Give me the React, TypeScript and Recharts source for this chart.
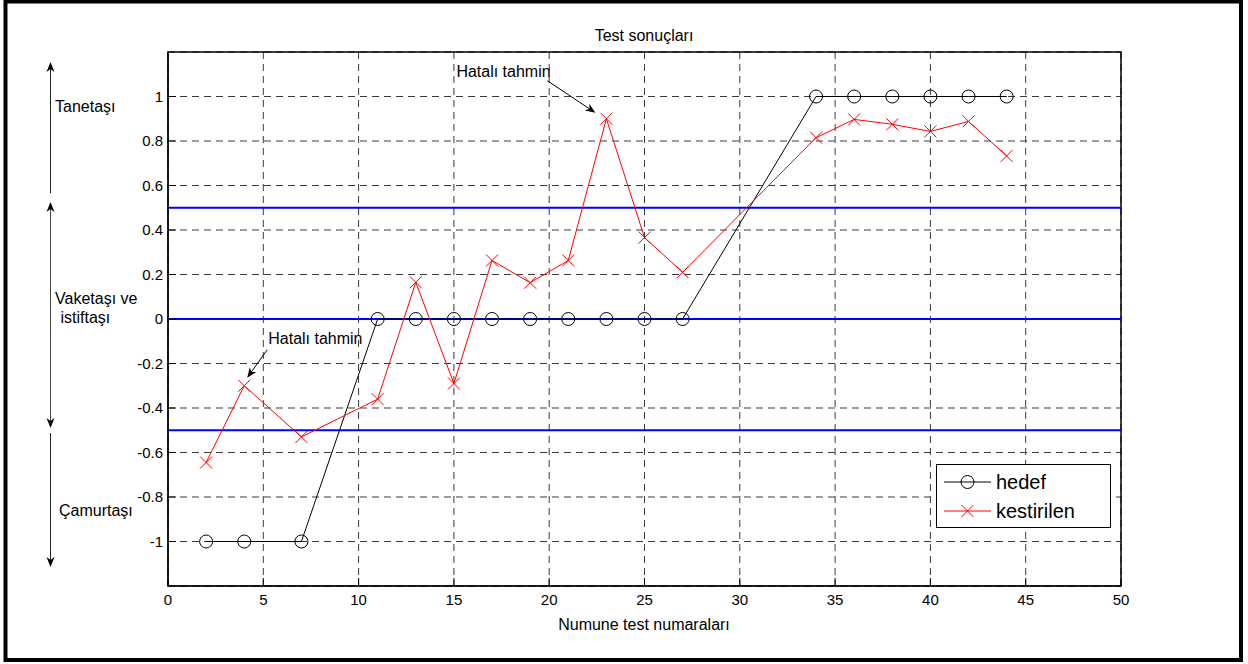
import React from 'react';
import {
  ComposedChart,
  Line,
  XAxis,
  YAxis,
  CartesianGrid,
  ReferenceLine,
  ReferenceDot,
  ReferenceArea,
} from 'recharts';

// ---- data ----
const sampleNumbers = [2, 4, 7, 11, 13, 15, 17, 19, 21, 23, 25, 27, 34, 36, 38, 40, 42, 44];
const hedefValues = [-1, -1, -1, 0, 0, 0, 0, 0, 0, 0, 0, 0, 1, 1, 1, 1, 1, 1];
const kestirilenValues = [
  -0.645, -0.3, -0.53, -0.36, 0.165, -0.29, 0.263, 0.163, 0.263, 0.9, 0.366, 0.21,
  0.815, 0.897, 0.875, 0.843, 0.888, 0.733,
];
const xTicks = [0, 5, 10, 15, 20, 25, 30, 35, 40, 45, 50];
const yTicks = [-1, -0.8, -0.6, -0.4, -0.2, 0, 0.2, 0.4, 0.6, 0.8, 1];
const classBoundaries = [0.5, 0, -0.5];
const errorNotes = [
  { x: 4, y: -0.3, label: 'Hatalı tahmin', side: 'right' },
  { x: 23, y: 0.9, label: 'Hatalı tahmin', side: 'left' },
];
const classLabels = ['Tanetaşı', 'Vaketaşı ve', ' istiftaşı', 'Çamurtaşı'];
const legendNames = ['hedef', 'kestirilen'];
const titleText = 'Test sonuçları';
const xLabelText = 'Numune test numaraları';

const rows = sampleNumbers.map((x, i) => ({
  x,
  hedef: hedefValues[i],
  kestirilen: kestirilenValues[i],
}));

const FONT = '"Liberation Sans", Arial, Helvetica, sans-serif';

function arrowHead(x1: number, y1: number, x2: number, y2: number, len = 10, half = 4, notch = 7) {
  const a = Math.atan2(y2 - y1, x2 - x1);
  const ux = Math.cos(a);
  const uy = Math.sin(a);
  const px = -uy;
  const py = ux;
  const bx = x2 - ux * len;
  const by = y2 - uy * len;
  const nx = x2 - ux * notch;
  const ny = y2 - uy * notch;
  return {
    d: `M${x2},${y2} L${bx + px * half},${by + py * half} L${nx},${ny} L${bx - px * half},${by - py * half} Z`,
    nx,
    ny,
  };
}

function Arrow({ x1, y1, x2, y2, color = '#000' }: any) {
  const h = arrowHead(x1, y1, x2, y2);
  return (
    <g>
      <line x1={x1} y1={y1} x2={h.nx} y2={h.ny} stroke={color} strokeWidth={1} />
      <path d={h.d} fill="#000" stroke="none" />
    </g>
  );
}

const CircleDot = (props: any) => {
  const { cx, cy, index } = props;
  if (cx == null || cy == null) return <g key={`c${index}`} />;
  return <circle key={`c${index}`} cx={cx} cy={cy} r={6.5} fill="none" stroke="#000" strokeWidth={1} />;
};

const CrossDot = (props: any) => {
  const { cx, cy, index } = props;
  if (cx == null || cy == null) return <g key={`x${index}`} />;
  const s = 6;
  return (
    <g key={`x${index}`}>
      <line x1={cx - s} y1={cy - s} x2={cx + s} y2={cy + s} stroke="#ff0000" strokeWidth={1} />
      <line x1={cx - s} y1={cy + s} x2={cx + s} y2={cy - s} stroke="#ff0000" strokeWidth={1} />
    </g>
  );
};

const makeNoteShape = (side: string, label: string) => (props: any) => {
  const { cx, cy } = props;
  if (cx == null || cy == null) return <g />;
  if (side === 'right') {
    return (
      <g>
        <text x={cx + 24} y={cy - 42} fontSize={16} fontFamily={FONT} fill="#000">
          {label}
        </text>
        <Arrow x1={cx + 23} y1={cy - 36} x2={cx + 3} y2={cy - 8} />
      </g>
    );
  }
  return (
    <g>
      <text x={cx - 150} y={cy - 42} fontSize={16} fontFamily={FONT} fill="#000">
        {label}
      </text>
      <Arrow x1={cx - 59} y1={cy - 38} x2={cx - 11} y2={cy - 6} />
    </g>
  );
};

export default function App() {
  return (
    <div
      style={{
        position: 'absolute',
        left: 0,
        top: 0,
        width: 1248,
        height: 664,
        background: '#fff',
        fontFamily: FONT,
      }}
    >
      <ComposedChart
        width={1248}
        height={664}
        data={rows}
        margin={{ top: 52, right: 127, bottom: 48, left: 108 }}
        style={{ fontFamily: FONT }}
      >
        <CartesianGrid stroke="#3a3a3a" strokeDasharray="7 5" strokeWidth={1} />
        <XAxis
          dataKey="x"
          type="number"
          domain={[0, 50]}
          ticks={xTicks}
          interval={0}
          height={30}
          stroke="#000"
          tickSize={-8}
          tickMargin={16}
          tick={{ fontSize: 15, fill: '#000', fontFamily: FONT }}
          allowDataOverflow
        />
        <YAxis
          type="number"
          domain={[-1.2, 1.2]}
          ticks={yTicks}
          interval={0}
          width={60}
          stroke="#000"
          tickSize={-8}
          tickMargin={13}
          tick={{ fontSize: 15, fill: '#000', fontFamily: FONT }}
          allowDataOverflow
        />
        {classBoundaries.map((b) => (
          <ReferenceLine key={`b${b}`} y={b} stroke="#0000ff" strokeWidth={2} />
        ))}
        <ReferenceArea
          x1={0}
          x2={50}
          y1={-1.2}
          y2={1.2}
          fill="none"
          fillOpacity={0}
          stroke="#000"
          strokeWidth={1.5}
          ifOverflow="visible"
        />
        <Line
          dataKey="hedef"
          name={legendNames[0]}
          type="linear"
          stroke="#000"
          strokeWidth={1}
          dot={CircleDot}
          activeDot={false}
          isAnimationActive={false}
        />
        <Line
          dataKey="kestirilen"
          name={legendNames[1]}
          type="linear"
          stroke="#ff0000"
          strokeWidth={1}
          dot={CrossDot}
          activeDot={false}
          isAnimationActive={false}
        />
        {errorNotes.map((n, i) => (
          <ReferenceDot
            key={`n${i}`}
            x={n.x}
            y={n.y}
            r={0}
            ifOverflow="visible"
            shape={makeNoteShape(n.side, n.label)}
          />
        ))}
      </ComposedChart>

      <svg
        width={1248}
        height={664}
        style={{ position: 'absolute', left: 0, top: 0, pointerEvents: 'none' }}
      >
        <rect x={5.5} y={1.5} width={1235.5} height={658.5} fill="none" stroke="#000" strokeWidth={4} />
        <text x={644} y={41} textAnchor="middle" fontSize={16} fontFamily={FONT} fill="#000">
          {titleText}
        </text>
        <text x={644} y={629.5} textAnchor="middle" fontSize={16} fontFamily={FONT} fill="#000">
          {xLabelText}
        </text>
        <Arrow x1={50.5} y1={193} x2={50.5} y2={62} color="#222" />
        <Arrow x1={50.5} y1={315} x2={50.5} y2={202} color="#444" />
        <Arrow x1={50.5} y1={315} x2={50.5} y2={428} color="#444" />
        <Arrow x1={50.5} y1={433} x2={50.5} y2={567} color="#222" />
        <text x={55} y={112} fontSize={16} fontFamily={FONT} fill="#000">
          {classLabels[0]}
        </text>
        <text x={55} y={304} fontSize={16} fontFamily={FONT} fill="#000">
          {classLabels[1]}
        </text>
        <text x={56} y={323} fontSize={16} fontFamily={FONT} fill="#000" style={{ whiteSpace: 'pre' }}>
          {classLabels[2]}
        </text>
        <text x={59} y={516} fontSize={16} fontFamily={FONT} fill="#000">
          {classLabels[3]}
        </text>
        <rect x={936.5} y={464.5} width={174} height={63} fill="#fff" stroke="#000" strokeWidth={1} />
        <line x1={944} y1={482} x2={991} y2={482} stroke="#000" strokeWidth={1} />
        <circle cx={967.5} cy={482} r={6.5} fill="none" stroke="#000" strokeWidth={1} />
        <text x={996} y={488.5} fontSize={20} fontFamily={FONT} fill="#000">
          {legendNames[0]}
        </text>
        <line x1={944} y1={511} x2={991} y2={511} stroke="#ff0000" strokeWidth={1} />
        <line x1={961.5} y1={505} x2={973.5} y2={517} stroke="#ff0000" strokeWidth={1} />
        <line x1={961.5} y1={517} x2={973.5} y2={505} stroke="#ff0000" strokeWidth={1} />
        <text x={996} y={518} fontSize={20} fontFamily={FONT} fill="#000">
          {legendNames[1]}
        </text>
      </svg>
    </div>
  );
}
